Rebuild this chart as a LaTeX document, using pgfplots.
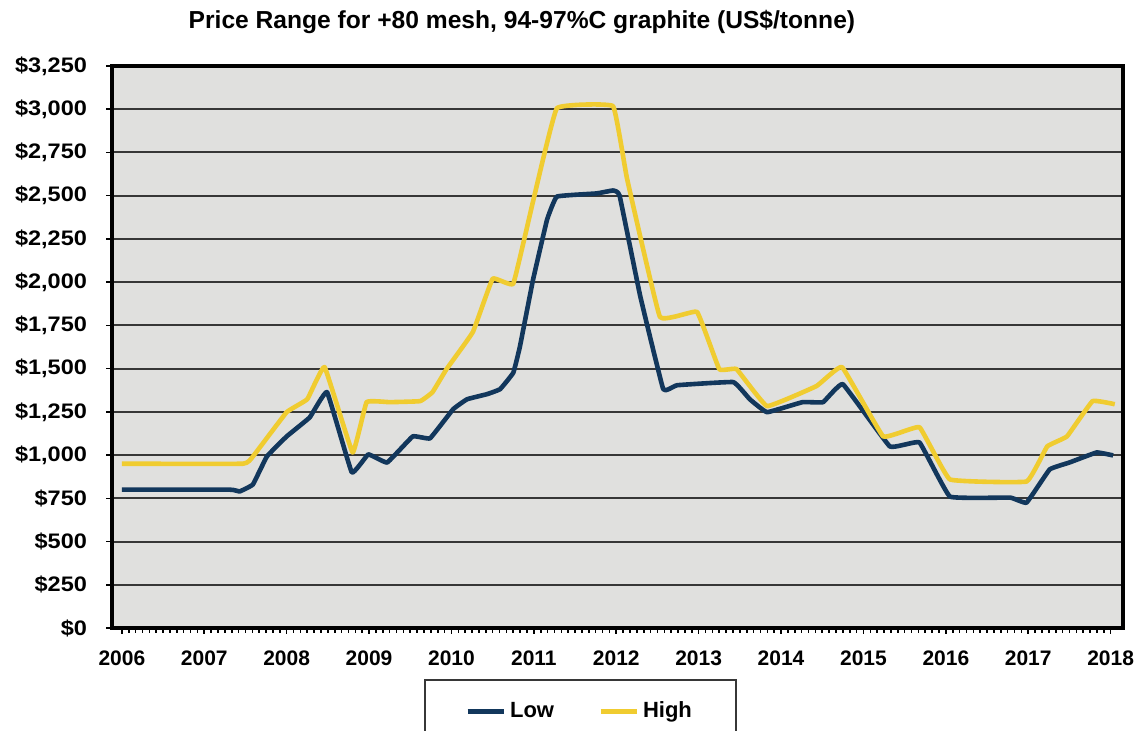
\documentclass[border=0pt]{standalone}
\usepackage{fontspec}
\setmainfont{Liberation Sans}
\newfontfamily\ytickfont[FakeStretch=1.12]{Liberation Sans}
\usepackage{pgfplots}
\pgfplotsset{compat=1.18}
\definecolor{lowc}{RGB}{18,55,92}
\definecolor{highc}{RGB}{240,204,48}
\definecolor{bgc}{RGB}{224,224,222}
\definecolor{gridc}{RGB}{55,55,55}
\begin{document}
\begin{tikzpicture}
\begin{axis}[
  name=ax,
  scale only axis,
  width=505.5pt, height=281pt,
  xmin=2005.88, xmax=2018.15,
  ymin=0, ymax=3250,
  axis background/.style={fill=bgc},
  axis line style={line width=1.8pt, black},
  ytick={0,250,...,3250},
  yticklabels={\$0,\$250,\$500,\$750,{\$1,000},{\$1,250},{\$1,500},{\$1,750},{\$2,000},{\$2,250},{\$2,500},{\$2,750},{\$3,000},{\$3,250}},
  xtick={2006,2007,2008,2009,2010,2011,2012,2013,2014,2015,2016,2017,2018},
  xticklabels={2006,2007,2008,2009,2010,2011,2012,2013,2014,2015,2016,2017,2018},
  minor x tick num=11,
  ymajorgrids,
  grid style={gridc, line width=1pt},
  tick pos=left,
  tick align=outside,
  major tick length=3pt,
  minor tick length=2.5pt,
  tick style={black, line width=0.8pt},
  xticklabel style={yshift=-5pt, font=\bfseries\fontsize{10.5}{12}\selectfont},
  yticklabel style={xshift=-6pt, font=\ytickfont\bfseries\fontsize{10.5}{12}\selectfont},
  title={Price Range for +80 mesh, 94-97\%C graphite (US\$/tonne)},
  title style={at={(0.4055,1.057)}, anchor=center, font=\bfseries\fontsize{12.3}{14}\selectfont},
  legend style={at={(0.4634,-0.0907)}, anchor=north, legend columns=2, draw=gridc, line width=0.8pt, fill=white,
    inner xsep=20pt, inner ysep=9pt, font=\bfseries\fontsize{11}{13}\selectfont,
    /tikz/every even column/.append style={column sep=20pt}},
  legend image code/.code={\draw[#1, line width=2.5pt] (0pt,0pt) -- (18pt,0pt);},
]
\addplot[lowc, line width=2.3pt, smooth, tension=0.15, line join=round] coordinates {
(2006.00,800) (2007.31,800) (2007.43,790) (2007.59,830) (2007.76,992) (2008.00,1108)
(2008.28,1218) (2008.49,1364) (2008.79,900) (2008.99,1004) (2009.22,957) (2009.53,1108)
(2009.74,1097) (2010.02,1265) (2010.19,1323) (2010.43,1352) (2010.59,1381) (2010.75,1476)
(2010.83,1626) (2010.99,2014) (2011.16,2361) (2011.28,2495) (2011.76,2513) (2011.96,2530)
(2012.04,2501) (2012.29,1921) (2012.57,1381) (2012.74,1404) (2013.42,1422) (2013.62,1323)
(2013.83,1248) (2014.26,1306) (2014.51,1306) (2014.75,1410) (2015.32,1050) (2015.68,1073)
(2016.05,760) (2016.78,754) (2016.98,725) (2017.26,917) (2017.50,957) (2017.83,1015) (2018.03,998)
};
\addlegendentry{Low}
\addplot[highc, line width=2.3pt, smooth, tension=0.15, line join=round] coordinates {
(2006.00,950) (2007.47,950) (2007.59,992) (2008.00,1248) (2008.25,1323) (2008.46,1509)
(2008.80,1015) (2008.97,1306) (2009.25,1306) (2009.62,1312) (2009.77,1364) (2009.94,1497)
(2010.26,1712) (2010.50,2020) (2010.75,1991) (2010.99,2467) (2011.28,3006) (2011.96,3018)
(2012.13,2600) (2012.53,1799) (2012.98,1828) (2013.25,1497) (2013.46,1497) (2013.83,1283)
(2014.43,1399) (2014.74,1509) (2015.24,1108) (2015.68,1161) (2016.05,859) (2016.98,847)
(2017.23,1050) (2017.47,1108) (2017.78,1312) (2018.05,1294)
};
\addlegendentry{High}
\end{axis}
\pgfresetboundingbox
\path[use as bounding box] ([shift={(-56pt,-51.5pt)}]ax.south west) rectangle ([shift={(514pt,314pt)}]ax.south west);
\end{tikzpicture}
\end{document}
